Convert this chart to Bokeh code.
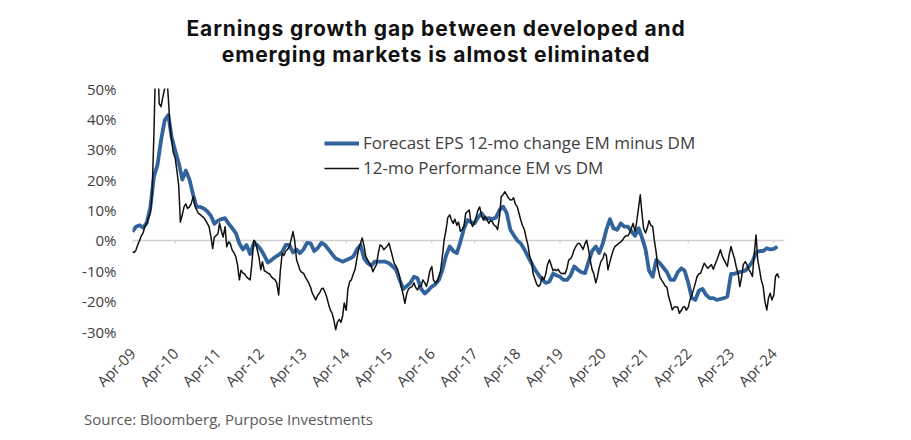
import math
from datetime import datetime
import pandas as pd
from bokeh.plotting import figure
from bokeh.layouts import column
from bokeh.models import (Range1d, FixedTicker, DatetimeTickFormatter, PrintfTickFormatter,
                          Span, Div, Legend, LegendItem)
from bokeh.embed import file_html
from bokeh.resources import INLINE

title_lines = ["Earnings growth gap between developed and",
               "emerging markets is almost eliminated"]
source_text = "Source: Bloomberg, Purpose Investments"
series_names = ["Forecast EPS 12-mo change EM minus DM", "12-mo Performance EM vs DM"]
tick_years = list(range(2009, 2025))
y_ticks = [-30, -20, -10, 0, 10, 20, 30, 40, 50]

# Forecast EPS 12-mo change, EM minus DM (%), monthly from Apr-2009
eps_gap = [
    2.9, 4.5, 5.0, 4.2, 5.8, 11, 21, 25, 33, 39.5, 41.3, 34,
    29.5, 25.5, 20, 23, 20, 15, 11, 11, 10.5, 9.5, 8, 5.5,
    6.5, 7, 7.3, 5.5, 4, 2.4, -1, -3, -1.5, -4.5, -1, -1.5,
    -3, -5, -7.3, -6.5, -5.5, -4.8, -3.8, -1.5, -1.5, -4, -3, -4.2,
    -3, -0.8, -1, -3.5, -2.5, -0.8, -1.5, -3, -4.5, -6, -6.5, -7,
    -6.5, -6, -5.3, -3, -1.5, -6, -7.5, -8.3, -7, -7, -7, -7,
    -7.5, -8.5, -9.7, -13, -16, -15, -14, -12, -12.5, -16, -17.5, -16.5,
    -15.2, -14.5, -13, -9.7, -5, -2, -3.5, -4.2, -0.5, 4, 6.7, 6,
    5.6, 7.5, 8.9, 7, 7.3, 7, 7.5, 10, 11.1, 9, 3.5, 1.8,
    0, -1, -3, -5.3, -7.5, -9.7, -11.4, -13, -14, -13.5, -11, -11.5,
    -12, -13, -13, -11.5, -8.6, -9.7, -10.5, -10.8, -7, -3.5, -2, -4.2,
    -1, 3.5, 7, 4, 3.5, 5.6, 4.5, 4.5, 3, 1.5, 4, 1,
    -3, -10, -12, -6.4, -7.5, -9, -10.5, -13, -13, -10.5, -9.2, -10,
    -14, -19, -19.6, -16.5, -16, -18, -19, -19, -19.6, -19.3, -19, -18.5,
    -11, -11, -10.5, -10.3, -10, -8.6, -7, -4, -3.5, -3.5, -2.6, -3,
    -2.8, -2,
]

# 12-mo performance EM vs DM (%), twice a month from Apr-2009
perf_gap = [
    -3.7, -4, -3.2, -1.5, 0, 1.5, 2.5, 4.5, 5.6, 7.5, 9, 15,
    35, 58, 62, 45, 44, 47, 50, 56, 47, 38, 33, 29,
    27, 23, 18, 6, 8.5, 11, 12, 10.5, 11, 12, 14.4, 11.5,
    10, 9, 8.5, 8, 7.5, 6.7, 5.5, 4.5, 1, -2.7, 1.1, 1.5,
    2.2, 5.6, 3, 1.1, 4.5, -2.1, -0.5, -1, -3.2, -4, -5.4, -8,
    -13, -9.8, -10.8, -11, -12, -12.5, -13, -8, 0, -0.5, -3, -5.3,
    -9.7, -7, -10, -10.3, -10.8, -11, -12, -12.5, -13, -14, -18, -10,
    -4.2, -5, -3.5, -3, -2, 0, 2.9, 0, -6.5, -8, -9.7, -10.5,
    -10.8, -12, -13, -14, -15.5, -17.4, -18.5, -19.6, -18, -17.4, -16, -15.7,
    -17, -18.5, -21, -22.8, -24, -26, -29.4, -27, -26, -27, -25, -20.6,
    -23, -16, -13.5, -13, -11, -9.6, -6, -3, -1, 0.8, -2, -5.3,
    -6.4, -7.5, -8.5, -10.3, -9, -8, -4, -1.5, -2, -3.1, -2.5, -2,
    -1, -3, -5.3, -7.5, -8.5, -9.7, -12, -15.2, -18, -20.7, -17.4, -16,
    -15.5, -15.2, -14, -15.5, -16.3, -15, -15, -13, -14, -15.2, -13, -10,
    -8.6, -13, -14, -13.5, -11.8, -10, -5, 0, 3.5, 7.5, 8.4, 6.8,
    5.6, 7, 5, 6, 3, 3.5, 4.6, 8.9, 9.5, 10, 6, 4.6,
    6, 7.8, 10, 11, 8, 6.7, 8, 7, 5.6, 6.5, 6, 5,
    4.6, 3.5, 8, 14.4, 15, 16, 15, 14, 13.3, 13.4, 14, 12,
    11.1, 9, 6.7, 5, 3.5, 1, -1.5, -5, -7, -11, -13, -14.5,
    -15.2, -14.5, -12, -13, -11, -8, -6.4, -8, -10, -9.5, -10, -9.5,
    -10.5, -11, -10.8, -11, -9, -6.4, -6, -5, -3, -2, -1, -1,
    -2, -3, -1, 0, -3, -6.4, -9.7, -11, -14, -12, -9, -7,
    -6, -4.2, -5, -9.7, -7, -5, -3, -2, -1.5, -1, -0.5, 0,
    1, 1.5, 1.5, 2.4, 4, 5.6, 3, 6, 11, 15, 9, 4,
    2.4, 4, 6.5, 5, 4.5, 0, -4, -9, -12, -13, -14, -15,
    -15.5, -18.5, -20.7, -22.9, -22, -21.8, -22, -24, -23, -22, -21.8, -23,
    -22, -19.6, -18, -16.3, -14, -11.9, -11, -10.8, -9, -7.5, -8.5, -9.2,
    -8.5, -8, -9.5, -8, -6.5, -5, -3.1, -5, -6.4, -7.5, -8.6, -5,
    -2, -4, -6, -8.6, -11, -15.2, -12, -8, -7, -8, -9.7, -10.5,
    -11.9, -5, 1.8, -6.4, -9.7, -13, -15.2, -20, -22.9, -19, -17.4, -19.6,
    -18, -11.9, -11, -12.4,
]

eps_dates = pd.date_range("2009-04-01", periods=len(eps_gap), freq="MS")
perf_dates = pd.date_range("2009-04-01", periods=len(perf_gap), freq="SMS")
tick_dates = [datetime(y, 4, 1) for y in tick_years]
tick_ms = [pd.Timestamp(d).timestamp() * 1000 for d in tick_dates]

BLUE = "#33639C"
BLACK = "#111111"
TEXT = "#404040"
FONT = "Open Sans"

line_style = ("font-family:'Inter';font-weight:700;font-size:21px;letter-spacing:0.9px;"
              "line-height:25.6px;height:25.6px;color:#111111;white-space:nowrap;")
title_div = Div(
    text=('<div style="width:872px;text-align:center;padding-top:16px;margin:0;">'
          f'<div style="{line_style}">{title_lines[0]}</div>'
          f'<div style="{line_style}">{title_lines[1]}</div></div>'),
    width=895, height=70, margin=0)

p = figure(width=895, height=336, x_axis_type="datetime",
           x_range=Range1d(datetime(2009, 4, 1), datetime(2024, 7, 1)),
           y_range=Range1d(-30, 50),
           output_backend="svg", toolbar_location=None,
           min_border_left=132, min_border_right=111,
           min_border_top=18, min_border_bottom=75, margin=0)
p.outline_line_color = None
p.xgrid.visible = False
p.ygrid.visible = False
p.background_fill_color = "white"

zero = Span(location=0, dimension="width", line_color="#D0D0D0", line_width=1.5, level="underlay")
p.add_layout(zero)
p.segment(x0=tick_dates, y0=[0] * len(tick_dates), x1=tick_dates, y1=[-1] * len(tick_dates),
          line_color="#D0D0D0", line_width=1.2)

r_eps = p.line(eps_dates, eps_gap, line_color=BLUE, line_width=3.8, line_join="round")
r_perf = p.line(perf_dates, perf_gap, line_color=BLACK, line_width=1.5, line_join="round")

p.yaxis.ticker = FixedTicker(ticks=y_ticks)
p.yaxis.formatter = PrintfTickFormatter(format="%d%%")
p.xaxis.ticker = FixedTicker(ticks=tick_ms)
p.xaxis.formatter = DatetimeTickFormatter(years="%b-%y", months="%b-%y", days="%b-%y")
p.xaxis.major_label_orientation = math.pi / 4
for ax in (p.xaxis, p.yaxis):
    ax.axis_line_color = None
    ax.major_tick_line_color = None
    ax.minor_tick_line_color = None
    ax.major_tick_out = 0
    ax.major_tick_in = 0
    ax.minor_tick_out = 0
    ax.minor_tick_in = 0
    ax.major_label_text_font = FONT
    ax.major_label_text_color = TEXT
p.yaxis.major_label_text_font_size = "15px"
p.yaxis.major_label_standoff = 16
p.xaxis.major_label_text_font_size = "15px"
p.xaxis.major_label_standoff = 19

legend = Legend(items=[LegendItem(label=series_names[0], renderers=[r_eps]),
                       LegendItem(label=series_names[1], renderers=[r_perf])],
                location=(192, 152), orientation="vertical",
                background_fill_alpha=0, border_line_alpha=0,
                padding=0, margin=0, spacing=2,
                glyph_width=35, glyph_height=20, label_height=20, label_standoff=4,
                label_text_font=FONT, label_text_font_size="17px", label_text_color=TEXT)
p.add_layout(legend)

source_div = Div(
    text=('<div style="padding-left:84px;font-family:\'Open Sans\';font-size:15px;'
          'line-height:26px;color:#595959;margin:0;">' + source_text + "</div>"),
    width=895, height=26, margin=0)

layout = column(title_div, p, source_div, spacing=0)

open("out.html", "w").write(file_html(layout, INLINE))
